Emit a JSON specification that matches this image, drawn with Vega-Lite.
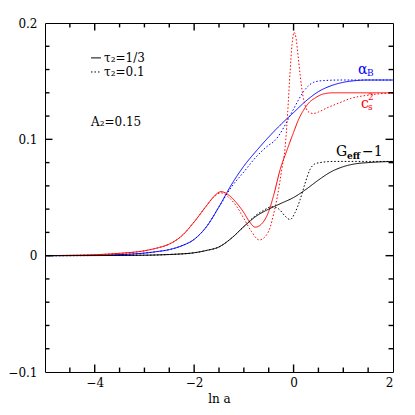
{
  "$schema": "https://vega.github.io/schema/vega-lite/v6.json",
  "width": 348,
  "height": 349,
  "autosize": "none",
  "padding": {"left": 45, "top": 23, "right": 22, "bottom": 43},
  "background": "white",
  "config": {
    "view": {"stroke": "black", "strokeWidth": 1},
    "axis": {"labelFont": "DejaVu Serif", "labelFontSize": 12, "labelColor": "black", "titleFont": "DejaVu Serif", "titleFontSize": 12, "titleFontWeight": "normal", "titleColor": "black", "grid": false, "domain": false}
  },
  "datasets": {
    "curves": [
      {"curve": "alphaB", "tau": "1/3", "x": -5, "y": 0},
      {"curve": "alphaB", "tau": "1/3", "x": -4.5, "y": 0.0001},
      {"curve": "alphaB", "tau": "1/3", "x": -4, "y": 0.0003},
      {"curve": "alphaB", "tau": "1/3", "x": -3.5, "y": 0.0009},
      {"curve": "alphaB", "tau": "1/3", "x": -3, "y": 0.0022},
      {"curve": "alphaB", "tau": "1/3", "x": -2.75, "y": 0.0035},
      {"curve": "alphaB", "tau": "1/3", "x": -2.5, "y": 0.0052},
      {"curve": "alphaB", "tau": "1/3", "x": -2.25, "y": 0.0085},
      {"curve": "alphaB", "tau": "1/3", "x": -2, "y": 0.014},
      {"curve": "alphaB", "tau": "1/3", "x": -1.75, "y": 0.025},
      {"curve": "alphaB", "tau": "1/3", "x": -1.5, "y": 0.042},
      {"curve": "alphaB", "tau": "1/3", "x": -1.25, "y": 0.061},
      {"curve": "alphaB", "tau": "1/3", "x": -1, "y": 0.077},
      {"curve": "alphaB", "tau": "1/3", "x": -0.75, "y": 0.09},
      {"curve": "alphaB", "tau": "1/3", "x": -0.5, "y": 0.102},
      {"curve": "alphaB", "tau": "1/3", "x": -0.25, "y": 0.113},
      {"curve": "alphaB", "tau": "1/3", "x": 0, "y": 0.123},
      {"curve": "alphaB", "tau": "1/3", "x": 0.25, "y": 0.133},
      {"curve": "alphaB", "tau": "1/3", "x": 0.5, "y": 0.141},
      {"curve": "alphaB", "tau": "1/3", "x": 0.75, "y": 0.146},
      {"curve": "alphaB", "tau": "1/3", "x": 1, "y": 0.149},
      {"curve": "alphaB", "tau": "1/3", "x": 1.25, "y": 0.1505},
      {"curve": "alphaB", "tau": "1/3", "x": 1.5, "y": 0.151},
      {"curve": "alphaB", "tau": "1/3", "x": 2, "y": 0.151},

      {"curve": "alphaB", "tau": "0.1", "x": -5, "y": 0},
      {"curve": "alphaB", "tau": "0.1", "x": -4.5, "y": 0.0001},
      {"curve": "alphaB", "tau": "0.1", "x": -4, "y": 0.0003},
      {"curve": "alphaB", "tau": "0.1", "x": -3.5, "y": 0.0009},
      {"curve": "alphaB", "tau": "0.1", "x": -3, "y": 0.0022},
      {"curve": "alphaB", "tau": "0.1", "x": -2.75, "y": 0.0035},
      {"curve": "alphaB", "tau": "0.1", "x": -2.5, "y": 0.0052},
      {"curve": "alphaB", "tau": "0.1", "x": -2.25, "y": 0.0085},
      {"curve": "alphaB", "tau": "0.1", "x": -2, "y": 0.014},
      {"curve": "alphaB", "tau": "0.1", "x": -1.75, "y": 0.025},
      {"curve": "alphaB", "tau": "0.1", "x": -1.5, "y": 0.042},
      {"curve": "alphaB", "tau": "0.1", "x": -1.25, "y": 0.059},
      {"curve": "alphaB", "tau": "0.1", "x": -1, "y": 0.072},
      {"curve": "alphaB", "tau": "0.1", "x": -0.75, "y": 0.085},
      {"curve": "alphaB", "tau": "0.1", "x": -0.5, "y": 0.095},
      {"curve": "alphaB", "tau": "0.1", "x": -0.4, "y": 0.098},
      {"curve": "alphaB", "tau": "0.1", "x": -0.3, "y": 0.103},
      {"curve": "alphaB", "tau": "0.1", "x": -0.2, "y": 0.11},
      {"curve": "alphaB", "tau": "0.1", "x": -0.1, "y": 0.118},
      {"curve": "alphaB", "tau": "0.1", "x": 0, "y": 0.126},
      {"curve": "alphaB", "tau": "0.1", "x": 0.1, "y": 0.134},
      {"curve": "alphaB", "tau": "0.1", "x": 0.2, "y": 0.141},
      {"curve": "alphaB", "tau": "0.1", "x": 0.3, "y": 0.146},
      {"curve": "alphaB", "tau": "0.1", "x": 0.4, "y": 0.149},
      {"curve": "alphaB", "tau": "0.1", "x": 0.6, "y": 0.1505},
      {"curve": "alphaB", "tau": "0.1", "x": 1, "y": 0.151},
      {"curve": "alphaB", "tau": "0.1", "x": 2, "y": 0.151},

      {"curve": "cs2", "tau": "1/3", "x": -5, "y": 0},
      {"curve": "cs2", "tau": "1/3", "x": -4.5, "y": 0.0003},
      {"curve": "cs2", "tau": "1/3", "x": -4, "y": 0.0008},
      {"curve": "cs2", "tau": "1/3", "x": -3.5, "y": 0.002},
      {"curve": "cs2", "tau": "1/3", "x": -3, "y": 0.0042},
      {"curve": "cs2", "tau": "1/3", "x": -2.75, "y": 0.0065},
      {"curve": "cs2", "tau": "1/3", "x": -2.5, "y": 0.01},
      {"curve": "cs2", "tau": "1/3", "x": -2.25, "y": 0.017},
      {"curve": "cs2", "tau": "1/3", "x": -2, "y": 0.029},
      {"curve": "cs2", "tau": "1/3", "x": -1.75, "y": 0.043},
      {"curve": "cs2", "tau": "1/3", "x": -1.6, "y": 0.051},
      {"curve": "cs2", "tau": "1/3", "x": -1.46, "y": 0.055},
      {"curve": "cs2", "tau": "1/3", "x": -1.3, "y": 0.052},
      {"curve": "cs2", "tau": "1/3", "x": -1.14, "y": 0.045},
      {"curve": "cs2", "tau": "1/3", "x": -1, "y": 0.037},
      {"curve": "cs2", "tau": "1/3", "x": -0.9, "y": 0.03},
      {"curve": "cs2", "tau": "1/3", "x": -0.77, "y": 0.0245},
      {"curve": "cs2", "tau": "1/3", "x": -0.65, "y": 0.027},
      {"curve": "cs2", "tau": "1/3", "x": -0.5, "y": 0.038},
      {"curve": "cs2", "tau": "1/3", "x": -0.4, "y": 0.052},
      {"curve": "cs2", "tau": "1/3", "x": -0.27, "y": 0.074},
      {"curve": "cs2", "tau": "1/3", "x": -0.13, "y": 0.091},
      {"curve": "cs2", "tau": "1/3", "x": 0, "y": 0.106},
      {"curve": "cs2", "tau": "1/3", "x": 0.1, "y": 0.117},
      {"curve": "cs2", "tau": "1/3", "x": 0.2, "y": 0.125},
      {"curve": "cs2", "tau": "1/3", "x": 0.3, "y": 0.131},
      {"curve": "cs2", "tau": "1/3", "x": 0.45, "y": 0.136},
      {"curve": "cs2", "tau": "1/3", "x": 0.6, "y": 0.139},
      {"curve": "cs2", "tau": "1/3", "x": 0.8, "y": 0.14},
      {"curve": "cs2", "tau": "1/3", "x": 2, "y": 0.14},

      {"curve": "cs2", "tau": "0.1", "x": -5, "y": 0},
      {"curve": "cs2", "tau": "0.1", "x": -4.5, "y": 0.0003},
      {"curve": "cs2", "tau": "0.1", "x": -4, "y": 0.0008},
      {"curve": "cs2", "tau": "0.1", "x": -3.5, "y": 0.002},
      {"curve": "cs2", "tau": "0.1", "x": -3, "y": 0.0042},
      {"curve": "cs2", "tau": "0.1", "x": -2.75, "y": 0.0065},
      {"curve": "cs2", "tau": "0.1", "x": -2.5, "y": 0.01},
      {"curve": "cs2", "tau": "0.1", "x": -2.25, "y": 0.017},
      {"curve": "cs2", "tau": "0.1", "x": -2, "y": 0.029},
      {"curve": "cs2", "tau": "0.1", "x": -1.75, "y": 0.043},
      {"curve": "cs2", "tau": "0.1", "x": -1.6, "y": 0.0505},
      {"curve": "cs2", "tau": "0.1", "x": -1.46, "y": 0.054},
      {"curve": "cs2", "tau": "0.1", "x": -1.3, "y": 0.05},
      {"curve": "cs2", "tau": "0.1", "x": -1.14, "y": 0.042},
      {"curve": "cs2", "tau": "0.1", "x": -1, "y": 0.032},
      {"curve": "cs2", "tau": "0.1", "x": -0.85, "y": 0.021},
      {"curve": "cs2", "tau": "0.1", "x": -0.69, "y": 0.0135},
      {"curve": "cs2", "tau": "0.1", "x": -0.58, "y": 0.016},
      {"curve": "cs2", "tau": "0.1", "x": -0.47, "y": 0.0245},
      {"curve": "cs2", "tau": "0.1", "x": -0.4, "y": 0.036},
      {"curve": "cs2", "tau": "0.1", "x": -0.33, "y": 0.05},
      {"curve": "cs2", "tau": "0.1", "x": -0.23, "y": 0.076},
      {"curve": "cs2", "tau": "0.1", "x": -0.17, "y": 0.093},
      {"curve": "cs2", "tau": "0.1", "x": -0.12, "y": 0.122},
      {"curve": "cs2", "tau": "0.1", "x": -0.07, "y": 0.158},
      {"curve": "cs2", "tau": "0.1", "x": -0.03, "y": 0.182},
      {"curve": "cs2", "tau": "0.1", "x": 0.01, "y": 0.192},
      {"curve": "cs2", "tau": "0.1", "x": 0.05, "y": 0.187},
      {"curve": "cs2", "tau": "0.1", "x": 0.09, "y": 0.172},
      {"curve": "cs2", "tau": "0.1", "x": 0.13, "y": 0.156},
      {"curve": "cs2", "tau": "0.1", "x": 0.19, "y": 0.137},
      {"curve": "cs2", "tau": "0.1", "x": 0.25, "y": 0.127},
      {"curve": "cs2", "tau": "0.1", "x": 0.32, "y": 0.123},
      {"curve": "cs2", "tau": "0.1", "x": 0.4, "y": 0.1222},
      {"curve": "cs2", "tau": "0.1", "x": 0.5, "y": 0.1235},
      {"curve": "cs2", "tau": "0.1", "x": 0.67, "y": 0.127},
      {"curve": "cs2", "tau": "0.1", "x": 0.9, "y": 0.131},
      {"curve": "cs2", "tau": "0.1", "x": 1.14, "y": 0.135},
      {"curve": "cs2", "tau": "0.1", "x": 1.5, "y": 0.138},
      {"curve": "cs2", "tau": "0.1", "x": 2, "y": 0.14},

      {"curve": "geff", "tau": "1/3", "x": -5, "y": 0},
      {"curve": "geff", "tau": "1/3", "x": -4, "y": 0.0001},
      {"curve": "geff", "tau": "1/3", "x": -3, "y": 0.0004},
      {"curve": "geff", "tau": "1/3", "x": -2.5, "y": 0.001},
      {"curve": "geff", "tau": "1/3", "x": -2, "y": 0.0025},
      {"curve": "geff", "tau": "1/3", "x": -1.75, "y": 0.0045},
      {"curve": "geff", "tau": "1/3", "x": -1.5, "y": 0.0075},
      {"curve": "geff", "tau": "1/3", "x": -1.25, "y": 0.015},
      {"curve": "geff", "tau": "1/3", "x": -1, "y": 0.025},
      {"curve": "geff", "tau": "1/3", "x": -0.75, "y": 0.034},
      {"curve": "geff", "tau": "1/3", "x": -0.5, "y": 0.04},
      {"curve": "geff", "tau": "1/3", "x": -0.25, "y": 0.045},
      {"curve": "geff", "tau": "1/3", "x": 0, "y": 0.05},
      {"curve": "geff", "tau": "1/3", "x": 0.25, "y": 0.057},
      {"curve": "geff", "tau": "1/3", "x": 0.5, "y": 0.065},
      {"curve": "geff", "tau": "1/3", "x": 0.75, "y": 0.072},
      {"curve": "geff", "tau": "1/3", "x": 1, "y": 0.0765},
      {"curve": "geff", "tau": "1/3", "x": 1.25, "y": 0.079},
      {"curve": "geff", "tau": "1/3", "x": 1.5, "y": 0.08},
      {"curve": "geff", "tau": "1/3", "x": 2, "y": 0.081},

      {"curve": "geff", "tau": "0.1", "x": -5, "y": 0},
      {"curve": "geff", "tau": "0.1", "x": -4, "y": 0.0001},
      {"curve": "geff", "tau": "0.1", "x": -3, "y": 0.0004},
      {"curve": "geff", "tau": "0.1", "x": -2.5, "y": 0.001},
      {"curve": "geff", "tau": "0.1", "x": -2, "y": 0.0025},
      {"curve": "geff", "tau": "0.1", "x": -1.75, "y": 0.0045},
      {"curve": "geff", "tau": "0.1", "x": -1.5, "y": 0.0075},
      {"curve": "geff", "tau": "0.1", "x": -1.25, "y": 0.015},
      {"curve": "geff", "tau": "0.1", "x": -1, "y": 0.025},
      {"curve": "geff", "tau": "0.1", "x": -0.75, "y": 0.035},
      {"curve": "geff", "tau": "0.1", "x": -0.6, "y": 0.039},
      {"curve": "geff", "tau": "0.1", "x": -0.45, "y": 0.042},
      {"curve": "geff", "tau": "0.1", "x": -0.35, "y": 0.0415},
      {"curve": "geff", "tau": "0.1", "x": -0.27, "y": 0.039},
      {"curve": "geff", "tau": "0.1", "x": -0.17, "y": 0.034},
      {"curve": "geff", "tau": "0.1", "x": -0.07, "y": 0.031},
      {"curve": "geff", "tau": "0.1", "x": 0.03, "y": 0.037},
      {"curve": "geff", "tau": "0.1", "x": 0.13, "y": 0.048},
      {"curve": "geff", "tau": "0.1", "x": 0.23, "y": 0.062},
      {"curve": "geff", "tau": "0.1", "x": 0.33, "y": 0.074},
      {"curve": "geff", "tau": "0.1", "x": 0.43, "y": 0.079},
      {"curve": "geff", "tau": "0.1", "x": 0.53, "y": 0.08},
      {"curve": "geff", "tau": "0.1", "x": 0.8, "y": 0.081},
      {"curve": "geff", "tau": "0.1", "x": 2, "y": 0.081}
    ],
    "ticksX": [
      {"v": -4.5, "kind": "minor"}, {"v": -4, "kind": "major"}, {"v": -3.5, "kind": "minor"}, {"v": -3, "kind": "minor"},
      {"v": -2.5, "kind": "minor"}, {"v": -2, "kind": "major"}, {"v": -1.5, "kind": "minor"}, {"v": -1, "kind": "minor"},
      {"v": -0.5, "kind": "minor"}, {"v": 0, "kind": "major"}, {"v": 0.5, "kind": "minor"}, {"v": 1, "kind": "minor"},
      {"v": 1.5, "kind": "minor"}
    ],
    "ticksY": [
      {"v": -0.08, "kind": "minor"}, {"v": -0.06, "kind": "minor"}, {"v": -0.04, "kind": "minor"}, {"v": -0.02, "kind": "minor"},
      {"v": 0, "kind": "major"}, {"v": 0.02, "kind": "minor"}, {"v": 0.04, "kind": "minor"}, {"v": 0.06, "kind": "minor"},
      {"v": 0.08, "kind": "minor"}, {"v": 0.1, "kind": "major"}, {"v": 0.12, "kind": "minor"}, {"v": 0.14, "kind": "minor"},
      {"v": 0.16, "kind": "minor"}, {"v": 0.18, "kind": "minor"}
    ],
    "legendLines": [
      {"curve": "legend", "tau": "1/3", "x": -4.075, "y": 0.17},
      {"curve": "legend", "tau": "1/3", "x": -3.874, "y": 0.17},
      {"curve": "legend", "tau": "0.1", "x": -4.075, "y": 0.1579},
      {"curve": "legend", "tau": "0.1", "x": -3.874, "y": 0.1579}
    ],
    "legendText": [
      {"curve": "legend", "label": "τ₂=1/3", "x": -3.813, "y": 0.17},
      {"curve": "legend", "label": "τ₂=0.1", "x": -3.813, "y": 0.1579},
      {"curve": "legend", "label": "A₂=0.15", "x": -4.075, "y": 0.1149}
    ],
    "mainText": [
      {"curve": "alphaB", "label": "α", "x": 1.296, "y": 0.1596},
      {"curve": "cs2", "label": "c", "x": 1.356, "y": 0.1308},
      {"curve": "geff", "label": "G", "x": 0.853, "y": 0.0891},
      {"curve": "geff", "label": "−1", "x": 1.376, "y": 0.0891}
    ],
    "subText": [
      {"curve": "alphaB", "label": "B", "x": 1.477, "y": 0.1566},
      {"curve": "cs2", "label": "s", "x": 1.497, "y": 0.1274}
    ],
    "subBoldText": [
      {"curve": "geff", "label": "eff", "x": 1.075, "y": 0.0857}
    ],
    "supText": [
      {"curve": "cs2", "label": "2", "x": 1.497, "y": 0.136}
    ]
  },
  "layer": [
    {
      "data": {"name": "curves"},
      "mark": {"type": "line", "strokeWidth": 1, "interpolate": "monotone"},
      "encoding": {
        "x": {"field": "x", "type": "quantitative", "scale": {"domain": [-5, 2], "nice": false, "zero": false},
              "axis": {"orient": "bottom", "values": [-4, -2, 0, 2], "ticks": false, "tickSize": 0, "labelPadding": 5, "title": "ln a", "titlePadding": 5}},
        "y": {"field": "y", "type": "quantitative", "scale": {"domain": [-0.1, 0.2], "nice": false, "zero": false},
              "axis": {"orient": "left", "values": [-0.1, 0, 0.1, 0.2], "ticks": false, "tickSize": 0, "format": "~g", "labelPadding": 8, "title": null}},
        "color": {"field": "curve", "type": "nominal", "scale": {"domain": ["alphaB", "cs2", "geff", "legend"], "range": ["#0000ff", "#ff0000", "#000000", "#000000"]}, "legend": null},
        "strokeDash": {"field": "tau", "type": "nominal", "scale": {"domain": ["1/3", "0.1"], "range": [[1, 0], [1.5, 2]]}, "legend": null}
      }
    },
    {
      "data": {"name": "ticksX"},
      "transform": [{"filter": {"field": "kind", "equal": "major"}}],
      "mark": {"type": "rule", "strokeWidth": 1.4, "color": "black"},
      "encoding": {"x": {"field": "v", "type": "quantitative"}, "y": {"datum": -0.1}, "y2": {"datum": -0.0935}}
    },
    {
      "data": {"name": "ticksX"},
      "transform": [{"filter": {"field": "kind", "equal": "minor"}}],
      "mark": {"type": "rule", "strokeWidth": 1.4, "color": "black"},
      "encoding": {"x": {"field": "v", "type": "quantitative"}, "y": {"datum": -0.1}, "y2": {"datum": -0.0962}}
    },
    {
      "data": {"name": "ticksX"},
      "transform": [{"filter": {"field": "kind", "equal": "major"}}],
      "mark": {"type": "rule", "strokeWidth": 1.4, "color": "black"},
      "encoding": {"x": {"field": "v", "type": "quantitative"}, "y": {"datum": 0.2}, "y2": {"datum": 0.1935}}
    },
    {
      "data": {"name": "ticksX"},
      "transform": [{"filter": {"field": "kind", "equal": "minor"}}],
      "mark": {"type": "rule", "strokeWidth": 1.4, "color": "black"},
      "encoding": {"x": {"field": "v", "type": "quantitative"}, "y": {"datum": 0.2}, "y2": {"datum": 0.1962}}
    },
    {
      "data": {"name": "ticksY"},
      "transform": [{"filter": {"field": "kind", "equal": "major"}}],
      "mark": {"type": "rule", "strokeWidth": 1.4, "color": "black"},
      "encoding": {"y": {"field": "v", "type": "quantitative"}, "x": {"datum": -5}, "x2": {"datum": -4.85}}
    },
    {
      "data": {"name": "ticksY"},
      "transform": [{"filter": {"field": "kind", "equal": "minor"}}],
      "mark": {"type": "rule", "strokeWidth": 1.4, "color": "black"},
      "encoding": {"y": {"field": "v", "type": "quantitative"}, "x": {"datum": -5}, "x2": {"datum": -4.91}}
    },
    {
      "data": {"name": "ticksY"},
      "transform": [{"filter": {"field": "kind", "equal": "major"}}],
      "mark": {"type": "rule", "strokeWidth": 1.4, "color": "black"},
      "encoding": {"y": {"field": "v", "type": "quantitative"}, "x": {"datum": 2}, "x2": {"datum": 1.85}}
    },
    {
      "data": {"name": "ticksY"},
      "transform": [{"filter": {"field": "kind", "equal": "minor"}}],
      "mark": {"type": "rule", "strokeWidth": 1.4, "color": "black"},
      "encoding": {"y": {"field": "v", "type": "quantitative"}, "x": {"datum": 2}, "x2": {"datum": 1.91}}
    },
    {
      "data": {"name": "legendLines"},
      "mark": {"type": "line", "strokeWidth": 1},
      "encoding": {
        "x": {"field": "x", "type": "quantitative"},
        "y": {"field": "y", "type": "quantitative"},
        "color": {"field": "curve", "type": "nominal", "legend": null},
        "strokeDash": {"field": "tau", "type": "nominal", "legend": null}
      }
    },
    {
      "data": {"name": "mainText"},
      "mark": {"type": "text", "font": "DejaVu Serif", "fontSize": 14, "align": "left", "baseline": "middle"},
      "encoding": {
        "x": {"field": "x", "type": "quantitative"},
        "y": {"field": "y", "type": "quantitative"},
        "text": {"field": "label"},
        "color": {"field": "curve", "type": "nominal", "legend": null}
      }
    },
    {
      "data": {"name": "legendText"},
      "mark": {"type": "text", "font": "DejaVu Serif", "fontSize": 12, "align": "left", "baseline": "middle"},
      "encoding": {
        "x": {"field": "x", "type": "quantitative"},
        "y": {"field": "y", "type": "quantitative"},
        "text": {"field": "label"},
        "color": {"field": "curve", "type": "nominal", "legend": null}
      }
    },
    {
      "data": {"name": "subText"},
      "mark": {"type": "text", "font": "DejaVu Serif", "fontSize": 9, "align": "left", "baseline": "middle"},
      "encoding": {
        "x": {"field": "x", "type": "quantitative"},
        "y": {"field": "y", "type": "quantitative"},
        "text": {"field": "label"},
        "color": {"field": "curve", "type": "nominal", "legend": null}
      }
    },
    {
      "data": {"name": "subBoldText"},
      "mark": {"type": "text", "font": "DejaVu Serif", "fontSize": 9, "fontWeight": "bold", "align": "left", "baseline": "middle"},
      "encoding": {
        "x": {"field": "x", "type": "quantitative"},
        "y": {"field": "y", "type": "quantitative"},
        "text": {"field": "label"},
        "color": {"field": "curve", "type": "nominal", "legend": null}
      }
    },
    {
      "data": {"name": "supText"},
      "mark": {"type": "text", "font": "DejaVu Serif", "fontSize": 9, "align": "left", "baseline": "middle"},
      "encoding": {
        "x": {"field": "x", "type": "quantitative"},
        "y": {"field": "y", "type": "quantitative"},
        "text": {"field": "label"},
        "color": {"field": "curve", "type": "nominal", "legend": null}
      }
    }
  ]
}
